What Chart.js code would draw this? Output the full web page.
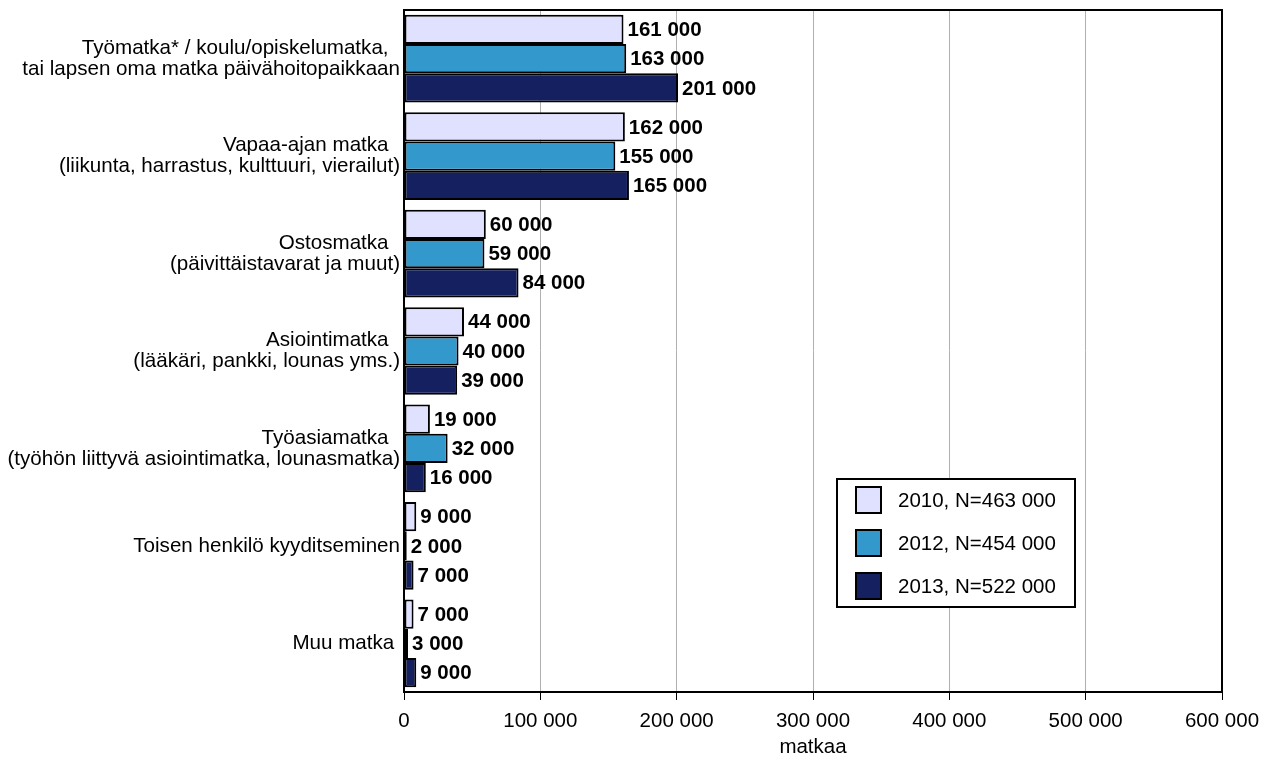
<!DOCTYPE html>
<html>
<head>
<meta charset="utf-8">
<script src="https://cdn.jsdelivr.net/npm/chart.js@4.4.0/dist/chart.umd.min.js"></script>
<style>
  html, body { margin: 0; padding: 0; background: #fff; }
  #wrap { width: 1271px; height: 760px; }
</style>
</head>
<body>
<div id="wrap"><canvas id="myChart" width="1271" height="760"></canvas></div>
<script>
// Trip purposes (y categories), two spaces on first lines push them left like the original
const categories = [
  ["Työmatka* / koulu/opiskelumatka,  ", "tai lapsen oma matka päivähoitopaikkaan"],
  ["Vapaa-ajan matka  ", "(liikunta, harrastus, kulttuuri, vierailut)"],
  ["Ostosmatka  ", "(päivittäistavarat ja muut)"],
  ["Asiointimatka  ", "(lääkäri, pankki, lounas yms.)"],
  ["Työasiamatka  ", "(työhön liittyvä asiointimatka, lounasmatka)"],
  "Toisen henkilö kyyditseminen",
  "Muu matka "
];
const trips2010 = [161000, 162000, 60000, 44000, 19000, 9000, 7000];
const trips2012 = [163000, 155000, 59000, 40000, 32000, 2000, 3000];
const trips2013 = [201000, 165000, 84000, 39000, 16000, 7000, 9000];
const seriesLabels = ["2010, N=463 000", "2012, N=454 000", "2013, N=522 000"];
const seriesColors = ["#E0E0FF", "#3399CC", "#14205F"];
const xTicks = [0, 100000, 200000, 300000, 400000, 500000, 600000];

const FONT = "'Liberation Sans', Arial, sans-serif";
const fmt = v => String(v).replace(/\B(?=(\d{3})+(?!\d))/g, " ");

// value labels at bar ends
const valueLabels = {
  id: "valueLabels",
  afterDatasetsDraw(chart) {
    const ctx = chart.ctx;
    ctx.save();
    ctx.font = "bold 20.5px " + FONT;
    ctx.fillStyle = "#000";
    ctx.textAlign = "left";
    ctx.textBaseline = "middle";
    chart.data.datasets.forEach((ds, i) => {
      chart.getDatasetMeta(i).data.forEach((bar, j) => {
        ctx.fillText(fmt(ds.data[j]), bar.x + 4, bar.y + 1);
      });
    });
    ctx.restore();
  }
};

// frame around plot + boxed legend inside the plot
const frameAndLegend = {
  id: "frameAndLegend",
  afterDraw(chart) {
    const ctx = chart.ctx;
    const a = chart.chartArea;
    ctx.save();
    ctx.strokeStyle = "#000";
    ctx.lineWidth = 2;
    ctx.strokeRect(a.left, a.top, a.right - a.left, a.bottom - a.top);

    const x = a.left + 433, y = a.top + 469, w = 238, h = 128;
    ctx.fillStyle = "#fff";
    ctx.fillRect(x, y, w, h);
    ctx.strokeRect(x, y, w, h);
    ctx.font = "20.5px " + FONT;
    ctx.textBaseline = "middle";
    chart.data.datasets.forEach((ds, i) => {
      const cy = y + 21 + i * 43;
      ctx.fillStyle = ds.backgroundColor;
      ctx.fillRect(x + 19, cy - 13, 25, 26);
      ctx.strokeRect(x + 19, cy - 13, 25, 26);
      ctx.fillStyle = "#000";
      ctx.fillText(ds.label, x + 61, cy + 1);
    });
    ctx.restore();
  }
};

const makeSet = (i, data) => ({
  label: seriesLabels[i],
  data: data,
  backgroundColor: seriesColors[i],
  borderColor: "#000",
  borderWidth: 2,
  borderSkipped: false,
  categoryPercentage: 0.9,
  barPercentage: 1.0
});

new Chart("myChart", {
  type: "bar",
  data: {
    labels: categories,
    datasets: [
      makeSet(0, trips2010),
      makeSet(1, trips2012),
      makeSet(2, trips2013)
    ]
  },
  options: {
    indexAxis: "y",
    responsive: false,
    animation: false,
    layout: { padding: { top: 10, right: 49, left: 0, bottom: 0 } },
    plugins: {
      legend: { display: false },
      tooltip: { enabled: false }
    },
    scales: {
      x: {
        min: 0,
        max: 600000,
        afterBuildTicks: s => { s.ticks = xTicks.map(v => ({ value: v })); },
        afterFit: s => { s.height = 68; },
        grid: { color: "#b0b0b0", tickColor: "#000", tickLength: 8, lineWidth: 1 },
        border: { display: true, color: "#000", width: 2 },
        ticks: {
          color: "#000",
          font: { family: FONT, size: 20.5 },
          padding: 9,
          maxRotation: 0,
          callback: v => fmt(v)
        },
        title: {
          display: true,
          text: "matkaa",
          color: "#000",
          font: { family: FONT, size: 20.5 },
          padding: { top: 0, bottom: 0 }
        }
      },
      y: {
        afterFit: s => { s.width = 404; s.paddingTop = 0; s.paddingBottom = 0; },
        grid: { display: false, drawTicks: false, tickLength: 0 },
        border: { display: true, color: "#000", width: 2 },
        ticks: {
          color: "#000",
          font: { family: FONT, size: 20.6, lineHeight: 1.02 },
          padding: 4
        }
      }
    }
  },
  plugins: [valueLabels, frameAndLegend]
});
</script>
</body>
</html>
